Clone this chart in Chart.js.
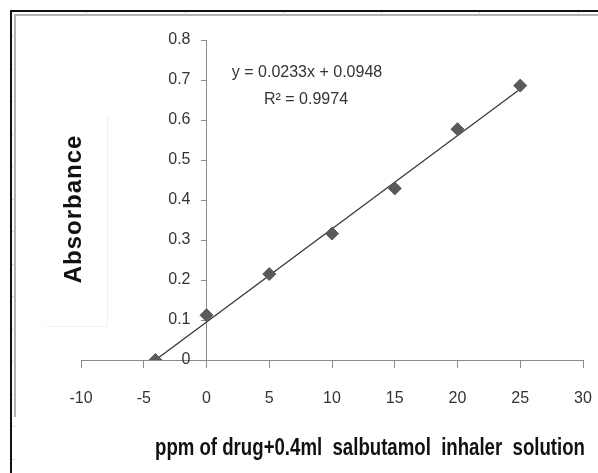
<!DOCTYPE html>
<html>
<head>
<meta charset="utf-8">
<script src="https://cdn.jsdelivr.net/npm/chart.js@4.4.1/dist/chart.umd.min.js"></script>
<style>
  html, body { margin: 0; padding: 0; background: #fff; }
  #contenedor { width: 598px; height: 473px; }
</style>
</head>
<body>
<div id="contenedor"><canvas id="grafico"></canvas></div>
<script>
// Datos de la curva de calibración (adición estándar)
const concentraciones = [-4.07, 0, 5, 10, 15, 20, 25];
const absorbancias = [0, 0.112, 0.215, 0.316, 0.429, 0.577, 0.686];

// Recta de regresión: y = pendiente * x + intercepto
const pendiente = 0.0233;
const intercepto = 0.0948;
const r2 = 0.9974;

// Límites de los ejes
const ejeX = { min: -10, max: 30, paso: 5 };
const ejeY = { min: 0, max: 0.8, paso: 0.1 };

const tituloX = "ppm of drug+0.4ml  salbutamol  inhaler  solution";
const tituloY = "Absorbance";

const puntos = concentraciones.map((x, i) => ({ x, y: absorbancias[i] }));
const xIni = concentraciones[0];
const xFin = concentraciones[concentraciones.length - 1];
const recta = [
    { x: xIni, y: pendiente * xIni + intercepto },
    { x: xFin, y: pendiente * xFin + intercepto }
];

const familia = "'Liberation Sans', Arial, sans-serif";
const fuenteTicks = { family: familia, size: 16 };
const colorTexto = "#333333";
const colorEje = "#8a8a8a";

// Marco de la hoja y líneas de celdas
const marco = {
    id: "marco",
    beforeDraw(chart) {
        const ctx = chart.ctx;
        const w = chart.width, h = chart.height;
        ctx.save();
        ctx.fillStyle = "#ffffff";
        ctx.fillRect(0, 0, w, h);

        // marcas tenues de celdas
        ctx.strokeStyle = "#d6dde8";
        ctx.lineWidth = 1;
        [86, 185, 283, 381, 479, 578].forEach(x => {
            ctx.beginPath(); ctx.moveTo(x + 0.5, 12); ctx.lineTo(x + 0.5, 15); ctx.stroke();
        });
        for (let y = 36; y < h; y += 32.5) {
            ctx.beginPath(); ctx.moveTo(12, Math.round(y) + 0.5); ctx.lineTo(15, Math.round(y) + 0.5); ctx.stroke();
        }

        // recuadro tenue del título vertical
        ctx.strokeStyle = "#f0f0f0";
        ctx.beginPath();
        ctx.moveTo(107.5, 117); ctx.lineTo(107.5, 326.5); ctx.lineTo(46, 326.5);
        ctx.stroke();

        // borde exterior negro
        ctx.strokeStyle = "#111111";
        ctx.lineWidth = 2;
        ctx.beginPath();
        ctx.moveTo(11, h); ctx.lineTo(11, 11); ctx.lineTo(w, 11);
        ctx.stroke();

        // borde interior gris
        ctx.strokeStyle = "#b4b4b4";
        ctx.beginPath();
        ctx.moveTo(15, 417); ctx.lineTo(15, 15); ctx.lineTo(w, 15);
        ctx.stroke();
        ctx.restore();
    },
    afterDraw(chart) {
        const ctx = chart.ctx;
        const escY = chart.scales.y;
        const x0 = chart.scales.x.getPixelForValue(0);
        ctx.save();

        // etiquetas del eje Y, a la izquierda del eje cruzado en x = 0
        ctx.fillStyle = colorTexto;
        ctx.font = `16px ${familia}`;
        ctx.textAlign = "right";
        ctx.textBaseline = "middle";
        escY.ticks.forEach(t => {
            ctx.fillText(String(+t.value.toFixed(1)), x0 - 16, escY.getPixelForValue(t.value));
        });

        // título del eje Y
        ctx.fillStyle = "#111111";
        ctx.save();
        ctx.translate(74, 209);
        ctx.rotate(-Math.PI / 2);
        ctx.font = `bold 24px ${familia}`;
        ctx.letterSpacing = "1px";
        ctx.textAlign = "center";
        ctx.textBaseline = "middle";
        ctx.fillText(tituloY, 0, 0);
        ctx.restore();

        // título del eje X, ajustado al ancho
        ctx.save();
        ctx.font = "bold 24px 'Liberation Sans Narrow', 'Arial Narrow', 'Liberation Sans', sans-serif";
        const ancho = ctx.measureText(tituloX).width;
        const escala = Math.min(1, 430 / ancho);
        ctx.translate(370, 455);
        ctx.scale(escala, 1);
        ctx.textAlign = "center";
        ctx.textBaseline = "alphabetic";
        ctx.fillText(tituloX, 0, 0);
        ctx.restore();

        // ecuación de la recta
        ctx.fillStyle = colorTexto;
        ctx.font = `16px ${familia}`;
        ctx.textAlign = "center";
        ctx.textBaseline = "middle";
        ctx.fillText(`y = ${pendiente}x + ${intercepto}`, 307, 73);
        ctx.fillText(`R² = ${r2}`, 306, 100);
        ctx.restore();
    }
};

new Chart(document.getElementById("grafico"), {
    type: "scatter",
    data: {
        datasets: [
            {
                label: "Tendencia",
                type: "line",
                data: recta,
                borderColor: "#3a3a3a",
                borderWidth: 1.3,
                pointRadius: 0,
                fill: false,
                order: 2
            },
            {
                label: "Absorbancia",
                data: puntos,
                pointStyle: "rectRot",
                pointRadius: 6.5,
                pointBackgroundColor: "#5a5a5a",
                pointBorderColor: "#5a5a5a",
                pointBorderWidth: 1,
                order: 1
            }
        ]
    },
    options: {
        responsive: true,
        maintainAspectRatio: false,
        animation: false,
        events: [],
        layout: { padding: { left: 81, right: 15, top: 40, bottom: 113 } },
        plugins: {
            legend: { display: false },
            tooltip: { enabled: false }
        },
        scales: {
            x: {
                type: "linear",
                position: { y: 0 },
                min: ejeX.min,
                max: ejeX.max,
                grid: { drawOnChartArea: false, drawTicks: true, tickLength: 7, color: colorEje },
                border: { color: colorEje, width: 1 },
                ticks: { stepSize: ejeX.paso, padding: 22, color: colorTexto, font: fuenteTicks, maxRotation: 0 },
                afterFit(escala) {
                    // sin relleno extra por las etiquetas de los extremos
                    escala.paddingLeft = 0;
                    escala.paddingRight = 0;
                }
            },
            y: {
                type: "linear",
                position: { x: 0 },
                min: ejeY.min,
                max: ejeY.max,
                grid: { drawOnChartArea: false, drawTicks: true, tickLength: 5, color: colorEje },
                border: { color: colorEje, width: 1 },
                ticks: { stepSize: ejeY.paso, display: false }
            }
        }
    },
    plugins: [marco]
});
</script>
</body>
</html>
